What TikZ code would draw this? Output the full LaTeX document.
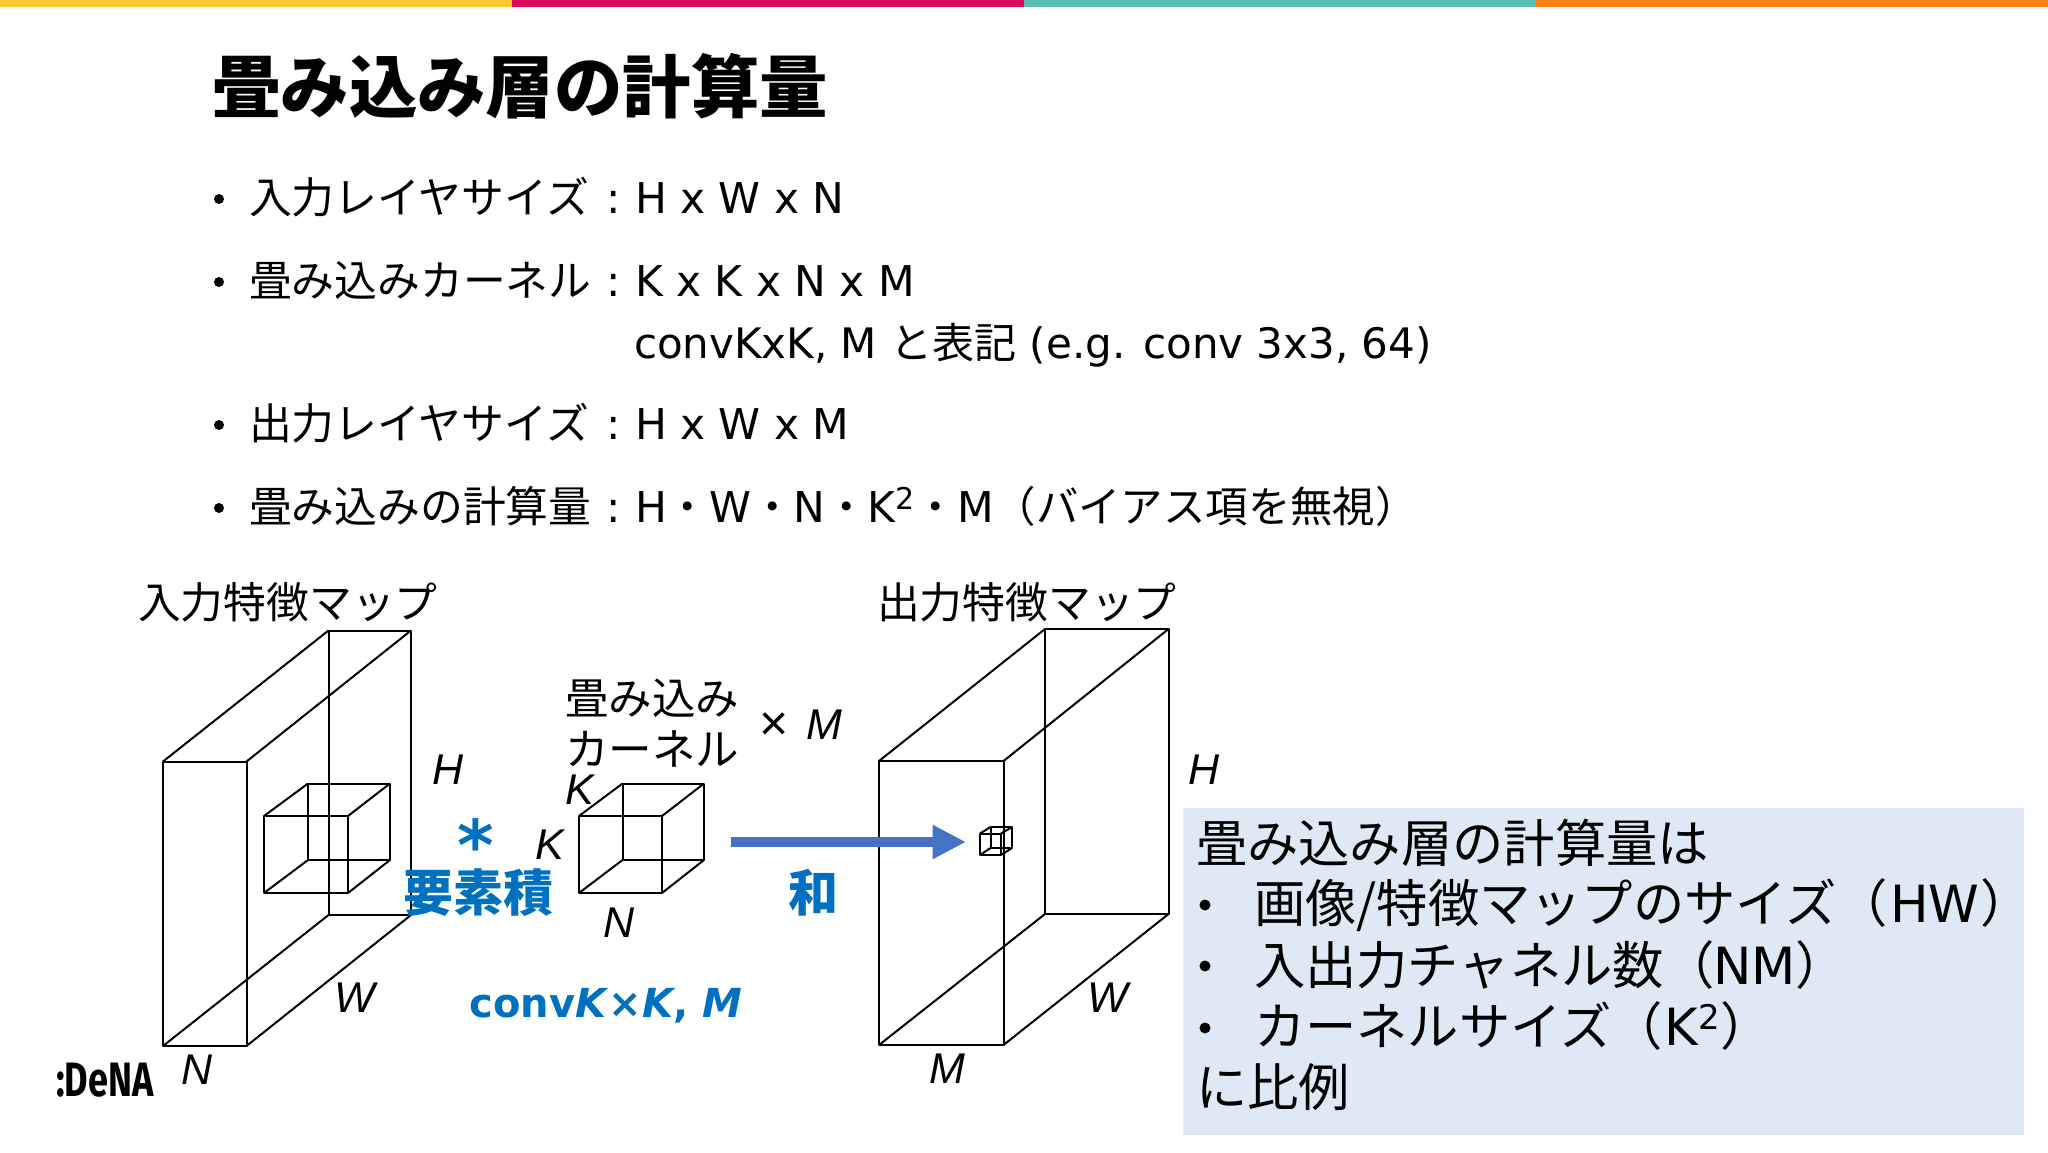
\documentclass[tikz,border=0pt]{standalone}
\usepackage{fontspec}
\usetikzlibrary{arrows.meta}
\setmainfont{DejaVu Sans}
\newfontfamily\cjk{Noto Sans CJK JP}
\newfontfamily\labfont{Liberation Sans}
\newfontfamily\logofont{Fira Sans}
\newcommand{\fsz}[1]{\fontsize{#1}{#1}\selectfont}
\newcommand{\J}[1]{{\cjk #1}}
\definecolor{barA}{HTML}{FFC733}
\definecolor{barB}{HTML}{DB0A5B}
\definecolor{barC}{HTML}{5ABCB0}
\definecolor{barD}{HTML}{FF7F17}
\definecolor{noteblue}{HTML}{DEE9F5}
\definecolor{accent}{HTML}{0070C0}
\definecolor{arrowblue}{HTML}{4472C4}
\tikzset{
  txt/.style={anchor=base west,inner sep=0pt,outer sep=0pt,font=\fsz{42.8}},
  note/.style={anchor=base west,inner sep=0pt,outer sep=0pt,font=\fsz{51.3}},
  lab/.style={anchor=center,inner sep=0pt,outer sep=0pt,font=\labfont\itshape\fsz{43}},
  wire/.style={draw=black,line width=2pt,line join=round},
}
% front-left, front-right, front-top, front-bottom, back-left, back-right, back-top, back-bottom
\newcommand{\wirebox}[8]{%
  \draw[wire] (#1,#3) rectangle (#2,#4);
  \draw[wire] (#5,#7) rectangle (#6,#8);
  \draw[wire] (#1,#3) -- (#5,#7) (#2,#3) -- (#6,#7) (#1,#4) -- (#5,#8) (#2,#4) -- (#6,#8);
}
\begin{document}
\begin{tikzpicture}[x=1pt,y=-1pt]
\useasboundingbox (0,0) rectangle (2048,1152);
\fill[white] (0,0) rectangle (2048,1152);
\fill[barA] (0,0) rectangle (512,6.5);
\fill[barB] (512,0) rectangle (1024,6.5);
\fill[barC] (1024,0) rectangle (1536,6.5);
\fill[barD] (1536,0) rectangle (2048,6.5);
% title
\node[anchor=base west,inner sep=0pt,font=\cjk\bfseries\fsz{68.4}] (title) at (212,112) {畳み込み層の計算量};
% bullets
\node[txt] (l1) at (249,213) {\J{入力レイヤサイズ}};
\node[txt] (c1) at (606,213) {:};
\node[txt,font=\fsz{42.4}] (v1) at (635,213) {H x W x N};
\node[txt] (l2) at (249,296) {\J{畳み込みカーネル}};
\node[txt] (c2) at (606,296) {:};
\node[txt,font=\fsz{42.4}] (v2) at (635,296) {K x K x N x M};
\node[txt,font=\fsz{42}] (v2b) at (634,358) {convKxK, M \J{と表記} (e.g. conv 3x3, 64)};
\node[txt] (l3) at (249,439) {\J{出力レイヤサイズ}};
\node[txt] (c3) at (606,439) {:};
\node[txt,font=\fsz{42.4}] (v3) at (635,439) {H x W x M};
\node[txt] (l4) at (249,522) {\J{畳み込みの計算量}};
\node[txt] (c4) at (606,522) {:};
\node[txt,font=\fsz{42.4}] (v4) at (635,522) {H\J{・}W\J{・}N\J{・}K\raisebox{13pt}{\fsz{30}2}\J{・}M\J{（バイアス項を無視）}};
\foreach \yy in {199,282,425,508}
  \fill[black] (219,\yy) circle (5pt);
% captions
\node[txt] (cin) at (138,618) {\J{入力特徴マップ}};
\node[txt] (cout) at (877,618) {\J{出力特徴マップ}};
\node[txt,font=\fsz{43.5}] (k1) at (565,714) {\J{畳み込み}};
\node[txt,font=\fsz{43.5}] (k2) at (565,765) {\J{カーネル}};
% boxes
\wirebox{163}{246.5}{761.5}{1046}{328.5}{411}{630.5}{915}
\wirebox{264}{348}{816}{893}{308}{390}{783.5}{860}
\wirebox{579}{662}{816}{893}{622.5}{704}{783.5}{860}
\wirebox{879}{1003.5}{761}{1045}{1045}{1168.5}{629}{914}
\wirebox{980}{1001}{833.5}{855}{990.5}{1012}{827}{848}
% labels
\node[lab] (H1) at (448,770) {H};
\node[lab] (W1) at (355,998) {W};
\node[lab] (N1) at (197,1070) {N};
\node[lab] (K1) at (580,790) {K};
\node[lab] (K2) at (550,845) {K};
\node[lab] (N2) at (619,923) {N};
\node[lab] (H2) at (1204,770) {H};
\node[lab] (W2) at (1108,998) {W};
\node[lab] (M2) at (947,1069) {M};
\node[lab] (M3) at (824,725) {M};
\node[anchor=center,inner sep=0pt,font=\labfont\fsz{50}] (times) at (774,727) {×};
% accent
\node[anchor=center,inner sep=0pt,font=\bfseries\fsz{70},text=accent] (star) at (476,845) {*};
\node[anchor=center,inner sep=0pt,font=\cjk\bfseries\fsz{50},text=accent] (yoso) at (478,893) {要素積};
\node[anchor=center,inner sep=0pt,font=\cjk\bfseries\fsz{50},text=accent] (wa) at (813,893) {和};
\node[anchor=center,inner sep=0pt,font=\bfseries\fsz{40},text=accent] (conv) at (606,1006) {conv\textit{K}×\textit{K}, \textit{M}};
% arrow
\coordinate (as) at (730.5,842);
\coordinate (ae) at (966,842);
\draw[arrowblue,line width=10.4pt,-{Triangle[length=33.5pt,width=32pt]}] (as) -- (ae);
% note
\fill[noteblue] (1183,808) rectangle (2024,1134.5);
\node[note] (n0) at (1196,862) {\J{畳み込み層の計算量は}};
\foreach \yy in {905,966,1028}
  \fill[black] (1205,\yy) circle (5.5pt);
\node[note] (n1) at (1254,922) {\J{画像/特徴マップのサイズ（}\hspace{2pt}HW\hspace{1pt}\J{）}};
\node[note] (n2) at (1254,984) {\J{入出力チャネル数（}\hspace{-2pt}NM\J{）}};
\node[note] (n3) at (1254,1045) {\J{カーネルサイズ（}\hspace{2pt}K\raisebox{16pt}{\fsz{34}2}\J{）}};
\node[note] (n4) at (1196,1106) {\J{に比例}};
% logo
\node[anchor=center,inner sep=0pt,font=\logofont\bfseries\fsz{42}] (logo) at (105,1080) {\scalebox{0.86}[1.15]{:DeNA}};
\end{tikzpicture}
\end{document}
